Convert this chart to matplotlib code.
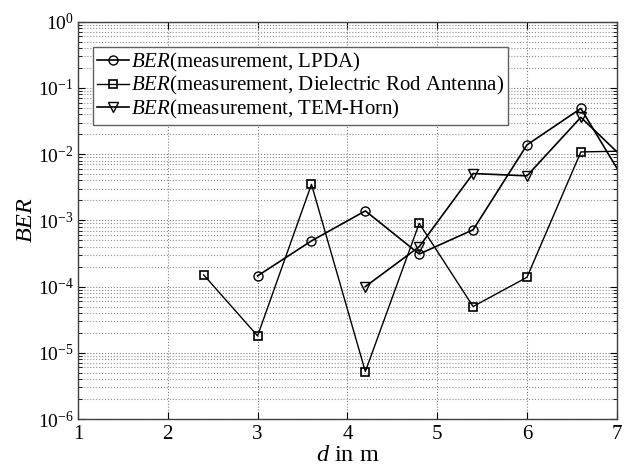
import numpy as np
import matplotlib
matplotlib.use('Agg')
from matplotlib import pyplot as plt
from matplotlib.ticker import LogLocator, FixedLocator, NullFormatter

plt.rcParams['font.family'] = ['Liberation Serif', 'DejaVu Serif']
plt.rcParams['mathtext.fontset'] = 'custom'
plt.rcParams['mathtext.rm'] = 'Liberation Serif'
plt.rcParams['mathtext.it'] = 'Liberation Serif:italic'
plt.rcParams['axes.unicode_minus'] = False

# distance in m and measured bit error rate per antenna
d_lpda = [3.0, 3.6, 4.2, 4.8, 5.4, 6.0, 6.6, 7.2]
ber_lpda = [1.45e-4, 4.9e-4, 1.39e-3, 3.1e-4, 7.2e-4, 1.38e-2, 4.9e-2, 2.2e-3]

d_rod = [2.4, 3.0, 3.6, 4.2, 4.8, 5.4, 6.0, 6.6, 7.2]
ber_rod = [1.5e-4, 1.8e-5, 3.5e-3, 5.2e-6, 9.0e-4, 5.0e-5, 1.38e-4, 1.08e-2, 1.12e-2]

d_tem = [4.2, 4.8, 5.4, 6.0, 6.6, 7.2]
ber_tem = [1.0e-4, 4.0e-4, 5.1e-3, 4.7e-3, 3.6e-2, 6.0e-3]

x_ticks = [1, 2, 3, 4, 5, 6, 7]
y_ticks = [1e-6, 1e-5, 1e-4, 1e-3, 1e-2, 1e-1, 1]
y_labels = ['10$^{-6}$', '10$^{-5}$', '10$^{-4}$', '10$^{-3}$',
            '10$^{-2}$', '10$^{-1}$', '10$^{0}$']

fig = plt.figure(figsize=(6.3, 4.71), dpi=100)
ax = fig.add_axes([0.1238, 0.1104, 0.8552, 0.8435])

ax.plot(d_lpda, ber_lpda, '-o', color='black', lw=1.2, ms=6.5,
        mfc='none', mew=1.0, label=r'$\mathit{BER}$(measurement, LPDA)')
ax.plot(d_rod, ber_rod, '-s', color='black', lw=1.0, ms=6.0,
        mfc='none', mew=1.2, label=r'$\mathit{BER}$(measurement, Dielectric Rod Antenna)')
ax.plot(d_tem, ber_tem, '-v', color='black', lw=1.2, ms=7.0,
        mfc='none', mew=1.0, label=r'$\mathit{BER}$(measurement, TEM-Horn)')

ax.set_yscale('log')
ax.set_xlim(1, 7)
ax.set_ylim(1e-6, 1)
ax.xaxis.set_major_locator(FixedLocator(x_ticks))
ax.set_yticks(y_ticks)
ax.set_yticklabels(y_labels)
ax.yaxis.set_minor_locator(LogLocator(base=10, subs=np.arange(2, 10), numticks=20))
ax.yaxis.set_minor_formatter(NullFormatter())

# matlab style dotted grid, minor lines only on the log axis
ax.grid(True, which='major', axis='both', ls=':', lw=0.8, color='#808080')
ax.grid(True, which='minor', axis='y', ls=':', lw=0.8, color='#909090')

ax.tick_params(which='both', direction='in', top=True, right=True, pad=4)
ax.tick_params(axis='x', labelsize=15)
ax.tick_params(axis='y', labelsize=14, pad=3)
ax.tick_params(which='major', length=5, width=0.8)
ax.tick_params(which='minor', length=3, width=0.6)
for s in ax.spines.values():
    s.set_color('#404040')
    s.set_linewidth(1.0)

ax.set_xlabel(r'$\mathit{d}$ in m', fontsize=17.5, labelpad=1)
ax.set_ylabel(r'$\mathit{BER}$', fontsize=17.5)
ax.yaxis.set_label_coords(-0.076, 0.5)

leg = ax.legend(loc='upper left', bbox_to_anchor=(0.027, 0.937), fontsize=15,
                handlelength=1.55, handletextpad=0.1, borderpad=0.2,
                labelspacing=0.02, borderaxespad=0, fancybox=False,
                framealpha=1, edgecolor='#606060')
leg.get_frame().set_linewidth(1.0)

fig.savefig('out.png', dpi=100)
